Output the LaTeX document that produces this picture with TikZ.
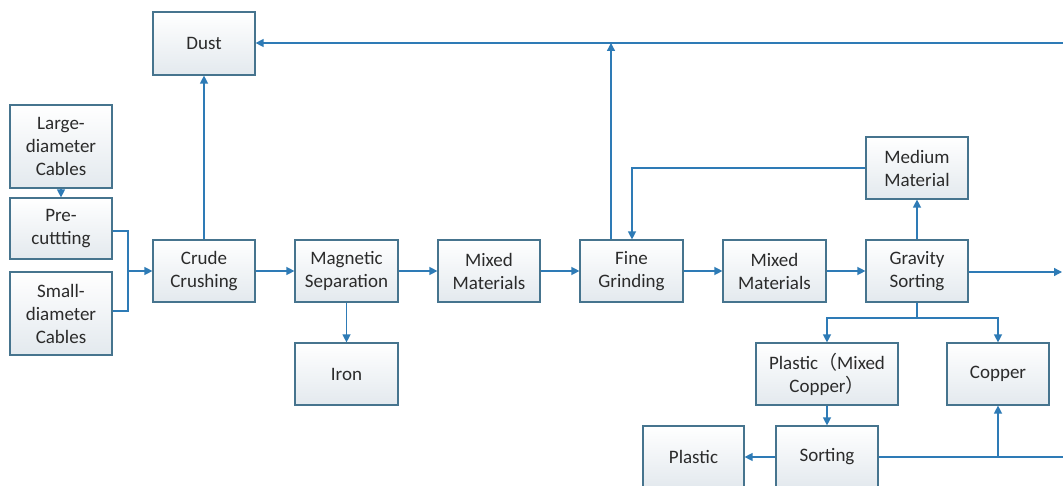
\documentclass[tikz,border=0pt]{standalone}
\usepackage{fontspec}
\setmainfont{Carlito}
\newfontfamily\cjk{Noto Sans CJK SC}
\usetikzlibrary{arrows.meta}
\definecolor{linecol}{HTML}{2E7BB6}
\definecolor{boxedge}{HTML}{46748E}
\definecolor{boxbot}{HTML}{E3E9EE}
\definecolor{txt}{HTML}{2B2B2B}
\tikzset{
  box/.style={draw=boxedge, line width=1.2pt, top color=white, bottom color=boxbot,
    text=txt, align=center, inner sep=0pt, minimum width=102pt, minimum height=62pt,
    font=\fontsize{19}{23}\selectfont},
  conn/.style={draw=linecol, line width=1.3pt},
  arr/.style={conn, -{Triangle[length=8pt,width=8pt]}},
}
\begin{document}
\begin{tikzpicture}[x=1pt,y=-1pt]
\useasboundingbox (0,0) rectangle (1063,486);
\clip (0,0) rectangle (1063,486);
\fill[white] (0,0) rectangle (1063,486);
% nodes
\node[box, minimum height=83pt] (large) at (61,146.5) {Large-\\diameter\\Cables};
\node[box, minimum height=61pt] (precut) at (61,228.5) {Pre-\\cuttting};
\node[box, minimum height=83pt] (small) at (61,313.5) {Small-\\diameter\\Cables};
\node[box] (crude) at (204,271) {Crude\\Crushing};
\node[box, minimum height=63pt] (dust) at (204,43.5) {Dust};
\node[box, minimum width=103pt] (mag) at (346.5,271) {Magnetic\\Separation};
\node[box] (mixA) at (489,271) {Mixed\\Materials};
\node[box, minimum width=103pt] (fine) at (631.5,271) {Fine\\Grinding};
\node[box, minimum width=103pt] (mixB) at (774.5,271) {Mixed\\Materials};
\node[box] (grav) at (917,271) {Gravity\\Sorting};
\node[box] (medium) at (917,168) {Medium\\Material};
\node[box, minimum width=103pt] (iron) at (346.5,374) {Iron};
\node[box, minimum width=142pt] (pmc) at (827,374) {Plastic{\cjk （}Mixed\\Copper{\cjk ）}};
\node[box] (copper) at (998,374) {Copper};
\node[box] (sorting) at (827,457) {Sorting};
\node[box, minimum width=101pt] (plastic) at (693.5,457) {Plastic};
% helper coordinates
\coordinate (jn) at (128,271);
\coordinate (dustR) at (1063,43);
\coordinate (gravR) at (1062,272);
\coordinate (sortR) at (1063,457);
\coordinate (split) at (917,318);
% connectors
\draw[arr] (large.south) -- (precut.north);
\draw[conn] (precut.east |- 0,231) -- (128,231) -- (128,311) -- (small.east |- 0,311);
\draw[arr] (jn) -- (crude.west);
\draw[arr] (crude.north) -- (dust.south);
\draw[arr] (dustR) -- (dust.east |- dustR);
\draw[arr] (fine.north -| 611,0) -- (611,43);
\draw[arr] (medium.west) -| (fine.north -| 632,0);
\draw[arr] (crude.east) -- (mag.west);
\draw[arr] (mag.east) -- (mixA.west);
\draw[arr] (mixA.east) -- (fine.west);
\draw[arr] (fine.east) -- (mixB.west);
\draw[arr] (mixB.east) -- (grav.west);
\draw[arr] (grav.north) -- (medium.south);
\draw[arr] (grav.east |- gravR) -- (gravR);
\draw[arr] (mag.south) -- (iron.north);
\draw[conn] (grav.south) -- (split);
\draw[arr] (split) -| (pmc.north);
\draw[arr] (split) -| (copper.north);
\draw[arr] (pmc.south) -- (sorting.north);
\draw[arr] (sorting.west) -- (plastic.east);
\draw[conn] (sorting.east) -- (sortR);
\draw[arr] (copper.south |- sortR) -- (copper.south);
\end{tikzpicture}
\end{document}
